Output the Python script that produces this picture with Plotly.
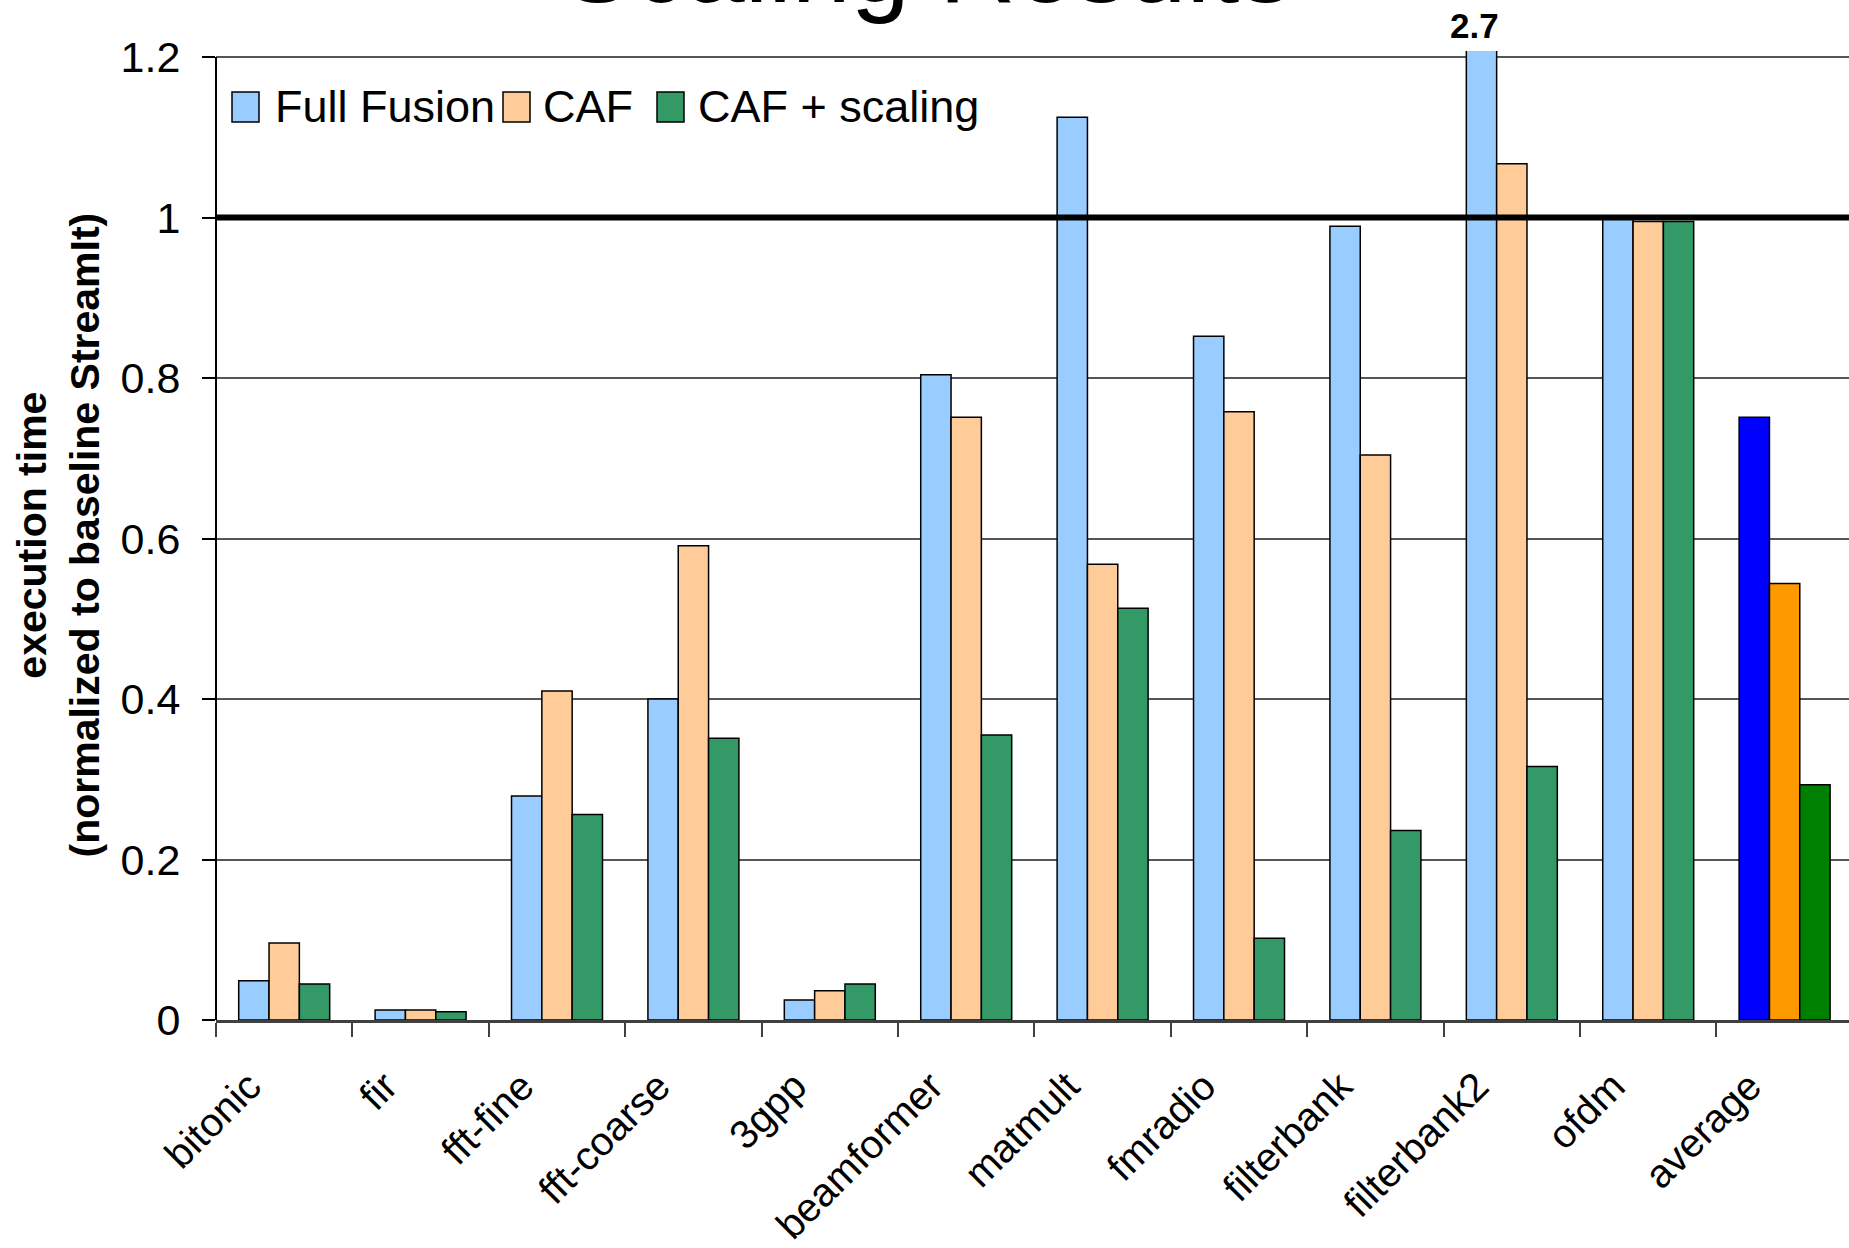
import plotly.graph_objects as go

# Benchmarks and normalized execution times (relative to baseline StreamIt)
benchmarks = ["bitonic", "fir", "fft-fine", "fft-coarse", "3gpp", "beamformer",
              "matmult", "fmradio", "filterbank", "filterbank2", "ofdm", "average"]
full_fusion = [0.049, 0.0125, 0.279, 0.400, 0.025, 0.804, 1.125, 0.852, 0.989, 2.7, 1.0, 0.751]
caf = [0.096, 0.0125, 0.410, 0.591, 0.0365, 0.751, 0.568, 0.758, 0.704, 1.067, 0.995, 0.544]
caf_scaling = [0.045, 0.0104, 0.256, 0.351, 0.045, 0.355, 0.513, 0.102, 0.236, 0.316, 0.995, 0.293]

series_names = ["Full Fusion", "CAF", "CAF + scaling"]
series_colors = ["#99CCFF", "#FFCC99", "#339966"]
average_colors = ["#0000FF", "#FF9900", "#008000"]
y_ticks = [0, 0.2, 0.4, 0.6, 0.8, 1.0, 1.2]
y_tick_text = ["0", "0.2", "0.4", "0.6", "0.8", "1", "1.2"]

W, H = 1849, 1248
ML, MR, MT, MB = 216, 0, 51, 228
PW, PH = W - ML - MR, H - MT - MB
FONT = "Arial, Liberation Sans, sans-serif"


def px_x(px):
    return (px - ML) / PW


def px_y(py):
    return (H - MB - py) / PH


fig = go.Figure()
for name, vals, col, avg_col in zip(series_names, [full_fusion, caf, caf_scaling],
                                    series_colors, average_colors):
    colors = [avg_col if b == "average" else col for b in benchmarks]
    fig.add_trace(go.Bar(
        x=benchmarks, y=vals, name=name, showlegend=False,
        marker=dict(color=colors, line=dict(color="black", width=1.5)),
    ))

shapes = [
    # vertical axis line up to the 1.2 tick
    dict(type="line", xref="paper", yref="y", x0=0, x1=0, y0=0, y1=1.2,
         line=dict(color="black", width=2), layer="above"),
    # baseline reference at 1.0
    dict(type="line", xref="paper", yref="y", x0=0, x1=1, y0=1.0, y1=1.0,
         line=dict(color="black", width=6), layer="above"),
]

annotations = [
    dict(text="Scaling Results", xref="paper", yref="paper",
         x=px_x(927), y=px_y(26), xanchor="center", yanchor="bottom",
         showarrow=False, font=dict(family=FONT, size=106, color="black")),
    dict(text="<b>2.7</b>", xref="x", yref="paper", x="filterbank2", xshift=-37,
         y=px_y(47), xanchor="center", yanchor="bottom", showarrow=False,
         font=dict(family=FONT, size=35, color="black")),
    dict(text="<b>execution time<br>(normalized to baseline StreamIt)</b>",
         xref="paper", yref="paper", x=px_x(58), y=0.5, textangle=-90,
         xanchor="center", yanchor="middle", showarrow=False,
         font=dict(family=FONT, size=41, color="black")),
]

# legend drawn as swatches + labels inside the plot area
legend_items = [(232, 273), (503, 541), (657, 696)]
for (sx, tx), name, col in zip(legend_items, series_names, series_colors):
    shapes.append(dict(type="rect", xref="paper", yref="paper",
                       x0=px_x(sx), x1=px_x(sx + 27), y0=px_y(122), y1=px_y(92),
                       fillcolor=col, line=dict(color="black", width=1.5)))
    annotations.append(dict(text=name, xref="paper", yref="paper",
                            x=px_x(tx), y=px_y(107), xanchor="left", yanchor="middle",
                            showarrow=False,
                            font=dict(family=FONT, size=45, color="black")))

fig.update_layout(
    width=W, height=H,
    margin=dict(l=ML, r=MR, t=MT, b=MB, pad=0, autoexpand=False),
    paper_bgcolor="white", plot_bgcolor="white",
    barmode="group", bargap=0.333, bargroupgap=0,
    shapes=shapes, annotations=annotations,
    showlegend=False,
    xaxis=dict(
        type="category", range=[-0.5, 11.472], showgrid=False, zeroline=False,
        automargin=False,
        showline=True, linecolor="#404040", linewidth=2.5,
        ticks="outside", tickson="boundaries", ticklen=14, tickwidth=2,
        tickcolor="#404040", tickangle=-45,
        ticklabelshift=-35, ticklabelstandoff=24,
        tickfont=dict(family=FONT, size=40, color="black"),
    ),
    yaxis=dict(
        range=[0, 1.2075], tickvals=y_ticks, ticktext=y_tick_text,
        automargin=False,
        showgrid=True, gridcolor="#555555", gridwidth=1.5,
        zeroline=False, showline=False,
        ticks="outside", ticklen=13, tickwidth=1.5, tickcolor="black",
        ticklabelstandoff=13,
        tickfont=dict(family=FONT, size=43, color="black"),
    ),
)

fig.write_html("out.html")
